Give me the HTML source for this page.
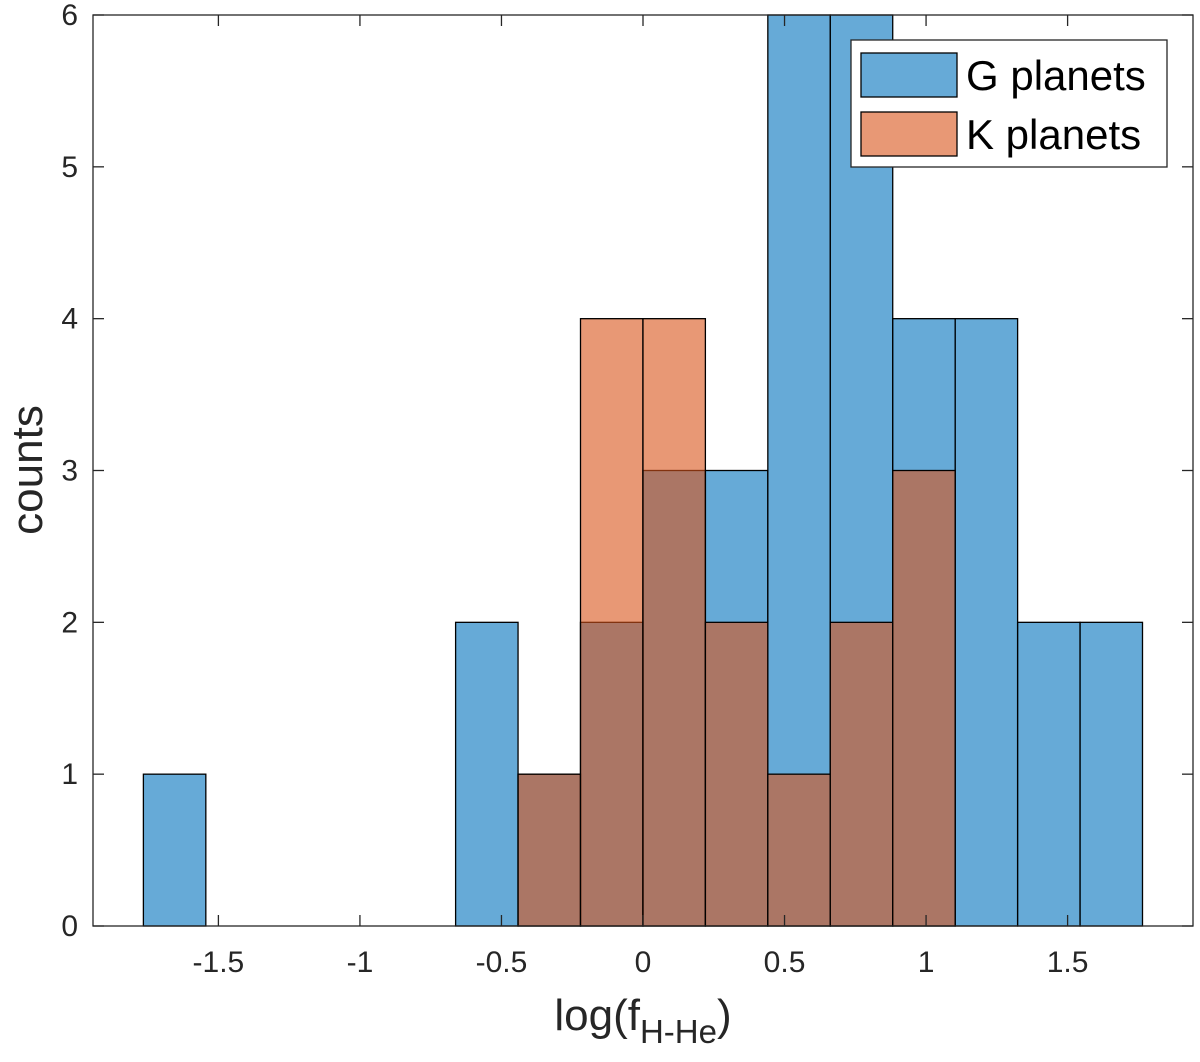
<!DOCTYPE html>
<html><head><meta charset="utf-8"><style>
body{margin:0;background:#fff}
svg{display:block;font-family:"Liberation Sans",Arial,sans-serif}
</style></head><body>
<svg id="chart" width="1200" height="1062" viewBox="0 0 1200 1062"></svg>
<script>
const binEdges0 = -1.765;
const binWidth = 0.2206;
const gCounts = [1,0,0,0,0,2,1,2,3,3,6,6,4,4,2,2];
const kCounts = [0,0,0,0,0,0,1,4,4,2,1,2,3,0,0,0];
const xTicks = [-1.5,-1,-0.5,0,0.5,1,1.5];
const xTickLabels = ["-1.5","-1","-0.5","0","0.5","1","1.5"];
const yTicks = [0,1,2,3,4,5,6];
const seriesNames = ["G planets","K planets"];

const L=93,R=1193,T=15,B=926;
const xMin=-1.943,xMax=1.943,yMin=0,yMax=6;
const sx=v=>L+(v-xMin)/(xMax-xMin)*(R-L);
const sy=v=>B-(v-yMin)/(yMax-yMin)*(B-T);
const svg=document.getElementById('chart');
const NS='http://www.w3.org/2000/svg';
function mk(tag,attrs){const e=document.createElementNS(NS,tag);for(const k in attrs)e.setAttribute(k,attrs[k]);svg.appendChild(e);return e;}

function drawSeries(counts,fill,name,onlyRange){
  let first=counts.findIndex(c=>c>0), last=counts.length-1-[...counts].reverse().findIndex(c=>c>0);
  counts.forEach((c,i)=>{
    if(onlyRange && (i<first||i>last))return;
    const x0=sx(binEdges0+i*binWidth), x1=sx(binEdges0+(i+1)*binWidth);
    const r=mk('rect',{x:x0,y:sy(c),width:x1-x0,height:sy(0)-sy(c),fill:fill,'fill-opacity':0.6,stroke:'#000','stroke-width':1.3});
    
    
  });
}
drawSeries(gCounts,'rgb(0,114,189)','g-planets',false);
drawSeries(kCounts,'rgb(217,83,25)','k-planets',true);

const box=mk('rect',{x:L,y:T,width:R-L,height:B-T,fill:'none',stroke:'#262626','stroke-width':1.3});



xTicks.forEach((v,i)=>{
  const x=sx(v);
  mk('line',{x1:x,x2:x,y1:B,y2:B-11,stroke:'#262626','stroke-width':1.3});
  mk('line',{x1:x,x2:x,y1:T,y2:T+11,stroke:'#262626','stroke-width':1.3});
  const t=mk('text',{x:x,y:972,'text-anchor':'middle','font-size':30,fill:'#262626'});
  t.textContent=xTickLabels[i];
  
  
});
yTicks.forEach(v=>{
  const y=sy(v);
  mk('line',{x1:L,x2:L+11,y1:y,y2:y,stroke:'#262626','stroke-width':1.3});
  mk('line',{x1:R,x2:R-11,y1:y,y2:y,stroke:'#262626','stroke-width':1.3});
  const t=mk('text',{x:78,y:y+10,'text-anchor':'end','font-size':30,fill:'#262626'});
  t.textContent=String(v);
  
  
});

const xt=mk('text',{x:643,y:1030,'text-anchor':'middle','font-size':44,fill:'#262626'});
xt.innerHTML='log(f<tspan font-size="33" dy="13">H-He</tspan><tspan dy="-13">)</tspan>';


const yt=mk('text',{x:0,y:0,'text-anchor':'middle','font-size':44,fill:'#262626',transform:'translate(42,470) rotate(-90)'});
yt.textContent='counts';



const lg=mk('rect',{x:851,y:40,width:316,height:127,fill:'#fff',stroke:'#262626','stroke-width':1.3});


const legFills=['rgb(0,114,189)','rgb(217,83,25)'];
seriesNames.forEach((n,i)=>{
  const y=53+i*59;
  const s=mk('rect',{x:861,y:y,width:96,height:44,fill:legFills[i],'fill-opacity':0.6,stroke:'#000','stroke-width':1.3});
  
  
  const t=mk('text',{x:966,y:y+37,'font-size':42,fill:'#000'});
  t.textContent=n;
  
  
});
</script>
</body></html>
